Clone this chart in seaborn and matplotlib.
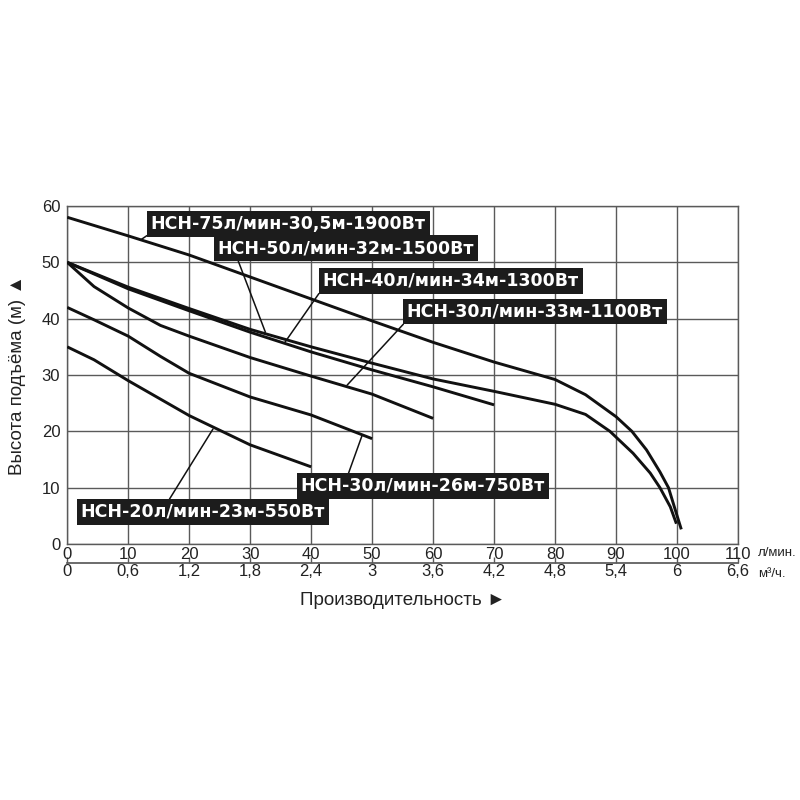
import matplotlib
matplotlib.use('Agg')
import matplotlib.pyplot as plt
import seaborn as sns

# напорные характеристики: производительность (л/мин) и напор (м)
q_1900 = [0, 10, 20, 30, 40, 50, 60, 70, 80, 85, 90, 92.6, 95.0, 97.2, 98.6, 99.9, 100.7]
h_1900 = [58, 54.7, 51.3, 47.4, 43.5, 39.6, 35.8, 32.3, 29.2, 26.5, 22.6, 20, 16.7, 12.8, 10, 5.4, 2.6]
q_1500 = [0, 10, 20, 30, 40, 50, 60, 70, 80, 85, 89.0, 92.8, 95.6, 97.2, 98.9, 99.9]
h_1500 = [50, 45.6, 41.8, 38.1, 35.0, 32.1, 29.3, 27.1, 24.8, 23.0, 20, 16.1, 12.6, 10, 6.6, 3.6]
q_1300 = [0, 10, 20, 30, 40, 50, 60, 70]
h_1300 = [50, 45.3, 41.4, 37.6, 34.1, 30.9, 27.9, 24.7]
q_1100 = [0, 4.4, 10, 15.3, 20, 30, 40, 50, 60]
h_1100 = [50, 45.7, 41.9, 38.8, 36.9, 33.1, 29.8, 26.6, 22.3]
q_750 = [0, 4.4, 10, 15.3, 20, 30, 40, 50]
h_750 = [42, 39.8, 36.9, 33.3, 30.3, 26.1, 22.9, 18.7]
q_550 = [0, 4.4, 10, 20, 30, 40]
h_550 = [35, 32.7, 29.0, 22.8, 17.6, 13.7]

names = ['НСН-75л/мин-30,5м-1900Вт', 'НСН-50л/мин-32м-1500Вт', 'НСН-40л/мин-34м-1300Вт',
         'НСН-30л/мин-33м-1100Вт', 'НСН-30л/мин-26м-750Вт', 'НСН-20л/мин-23м-550Вт']
curves = [(q_1900, h_1900), (q_1500, h_1500), (q_1300, h_1300),
          (q_1100, h_1100), (q_750, h_750), (q_550, h_550)]

lmin_ticks = [0, 10, 20, 30, 40, 50, 60, 70, 80, 90, 100, 110]
m3h_labels = ['0', '0,6', '1,2', '1,8', '2,4', '3', '3,6', '4,2', '4,8', '5,4', '6', '6,6']
h_ticks = [0, 10, 20, 30, 40, 50, 60]

# where the label boxes sit and which point of the curve they point at
label_pos = [(13.7, 56.8), (24.7, 52.5), (41.9, 46.7), (55.7, 41.3), (38.3, 10.3), (2.2, 5.7)]
leader_to = [(12.2, 54.1), (32.5, 37.6), (35.7, 35.8), (45.9, 28.2), (48.4, 19.4), (23.9, 20.4)]
leader_rel = [(0, 0), (0.074, 0), (0, 0.1), (0, 0), (0.19, 1), (0.354, 1)]

sns.set_theme(style='white')
plt.rcParams['font.family'] = ['Liberation Sans', 'DejaVu Sans']

fig, ax = plt.subplots(figsize=(8, 8), dpi=100)
fig.subplots_adjust(left=0.084, right=0.9225, top=0.7425, bottom=0.32)

grid_c = '#5a5a5a'
for (q, h) in curves:
    sns.lineplot(x=q, y=h, ax=ax, color='#111111', lw=2.1, sort=False,
                 solid_joinstyle='round', solid_capstyle='butt', zorder=3)

for name, pos, tgt, rel in zip(names, label_pos, leader_to, leader_rel):
    ax.annotate(name, xy=tgt, xytext=pos, ha='left', va='center',
                fontsize=12.5, fontweight='bold', color='white', family=['DejaVu Sans'],
                bbox=dict(boxstyle='square,pad=0.22', fc='#1c1c1c', ec='none'),
                arrowprops=dict(arrowstyle='-', color='#111111', lw=1.1,
                                shrinkA=0, shrinkB=0, relpos=rel),
                zorder=5)

ax.set_xlim(0, 110)
ax.set_ylim(0, 60)
ax.set_xticks(lmin_ticks)
ax.set_yticks(h_ticks)
ax.grid(True, color=grid_c, lw=1.0)
for s in ax.spines.values():
    s.set_color(grid_c)
    s.set_linewidth(1.0)
ax.tick_params(axis='x', length=0, pad=2, labelsize=12, labelcolor='#222222')
ax.tick_params(axis='y', length=0, pad=5, labelsize=12, labelcolor='#222222')

sec = ax.secondary_xaxis(-0.056, functions=(lambda x: x * 0.06, lambda x: x / 0.06))
sec.set_xticks([t * 0.06 for t in lmin_ticks])
sec.set_xticklabels(m3h_labels)
sec.spines['bottom'].set_color(grid_c)
sec.tick_params(axis='x', direction='in', length=4, width=1.0, color=grid_c,
                pad=1, labelsize=12, labelcolor='#222222')

ax.text(1.03, -0.027, 'л/мин.', transform=ax.transAxes, fontsize=9.5,
        ha='left', va='center', color='#222222')
ax.text(1.03, -0.088, 'м³/ч.', transform=ax.transAxes, fontsize=9.5,
        ha='left', va='center', color='#222222')

ax.set_xlabel('Производительность ►', fontsize=13.5, color='#222222')
ax.xaxis.set_label_coords(0.5, -0.166)
ax.xaxis.label.set_va('center')
ax.set_ylabel('Высота подъёма (м) ▲', fontsize=13.5, color='#222222')
ax.yaxis.set_label_coords(-0.0745, 0.5)
ax.yaxis.label.set_va('center')

fig.savefig('out.png', dpi=100, facecolor='white')
